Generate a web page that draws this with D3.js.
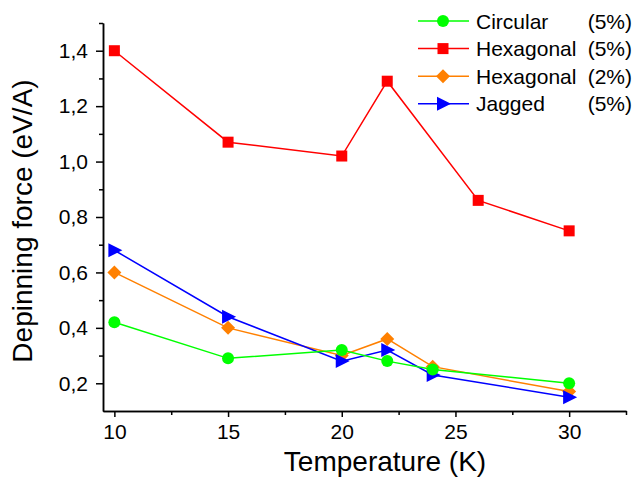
<!DOCTYPE html>
<html lang="en">
<head>
<meta charset="utf-8">
<title>Depinning force vs temperature</title>
<script src="https://d3js.org/d3.v7.min.js"></script>
<style>
    body { margin: 0; background: #fff; }
    text { font-family: "Liberation Sans", Arial, sans-serif; fill: #000; }
    .axis path, .axis line { stroke: #000; stroke-width: 1.5; }
    .axis text { font-size: 21px; }
</style>
</head>
<body>
<script>
    // temperatures (K)
    const tempsHex5 = [10, 15, 20, 22, 26, 30];
    const tempsOther = [10, 15, 20, 22, 24, 30];

    // depinning force (eV/A)
    const hex5 = [1.40, 1.07, 1.02, 1.29, 0.86, 0.75];
    const circular5 = [0.42, 0.29, 0.32, 0.28, 0.25, 0.20];
    const hex2 = [0.60, 0.40, 0.30, 0.36, 0.26, 0.17];
    const jagged5 = [0.68, 0.44, 0.28, 0.32, 0.23, 0.15];

    const xTicks = [10, 15, 20, 25, 30];
    const yTicks = [0.2, 0.4, 0.6, 0.8, 1.0, 1.2, 1.4];

    const series = [
        {name: "Hexagonal", pct: "(2%)", color: "#ff8000", shape: "diamond", x: tempsOther, y: hex2},
        {name: "Jagged", pct: "(5%)", color: "#0000ff", shape: "triangle", x: tempsOther, y: jagged5},
        {name: "Circular", pct: "(5%)", color: "#00ff00", shape: "circle", x: tempsOther, y: circular5},
        {name: "Hexagonal", pct: "(5%)", color: "#ff0000", shape: "square", x: tempsHex5, y: hex5}
    ];
    const legendOrder = [2, 3, 0, 1];

    const W = 636, H = 478;
    const x = d3.scaleLinear().domain([9.5, 32.5]).range([103, 626]);
    const y = d3.scaleLinear().domain([0.1, 1.5]).range([411, 23]);

    const svg = d3.select("body").append("svg").attr("width", W).attr("height", H);

    const comma = d => d3.format(".1f")(d).replace(".", ",");

    // minor ticks
    svg.append("g").attr("class", "axis")
        .attr("transform", "translate(0,411)")
        .call(d3.axisBottom(x).tickValues(d3.range(12.5, 33, 5)).tickSize(4).tickSizeOuter(0).tickFormat(""));
    svg.append("g").attr("class", "axis")
        .attr("transform", "translate(103,0)")
        .call(d3.axisLeft(y).tickValues(d3.range(0.3, 1.55, 0.2)).tickSize(4).tickSizeOuter(0).tickFormat(""));

    // major ticks
    svg.append("g").attr("class", "axis")
        .attr("transform", "translate(0,411)")
        .call(d3.axisBottom(x).tickValues(xTicks).tickSize(6).tickSizeOuter(0).tickPadding(7));
    svg.append("g").attr("class", "axis")
        .attr("transform", "translate(103,0)")
        .call(d3.axisLeft(y).tickValues(yTicks).tickSize(7).tickSizeOuter(0).tickPadding(8).tickFormat(comma));

    // axis titles
    svg.append("text")
        .attr("x", 385).attr("y", 471)
        .attr("text-anchor", "middle")
        .style("font-size", "28px")
        .text("Temperature (K)");
    svg.append("text")
        .attr("transform", "translate(32,221) rotate(-90)")
        .attr("text-anchor", "middle")
        .style("font-size", "28px")
        .text("Depinning force (eV/A)");

    function marker(g, shape, color) {
        if (shape === "circle") {
            g.append("circle").attr("r", 6).attr("fill", color);
        } else if (shape === "square") {
            g.append("rect").attr("x", -5.5).attr("y", -5.5).attr("width", 11).attr("height", 11).attr("fill", color);
        } else if (shape === "diamond") {
            g.append("path").attr("d", "M0,-7L7,0L0,7L-7,0Z").attr("fill", color);
        } else {
            g.append("path").attr("d", "M-6,-7L8,0L-6,7Z").attr("fill", color);
        }
    }

    const line = d3.line().x(d => x(d[0])).y(d => y(d[1]));

    series.forEach(s => {
        const pts = s.x.map((t, i) => [t, s.y[i]]);
        svg.append("path")
            .datum(pts)
            .attr("d", line)
            .attr("fill", "none")
            .attr("stroke", s.color)
            .attr("stroke-width", 1.5);
        svg.append("g").selectAll("g")
            .data(pts).enter()
            .append("g")
            .attr("transform", d => `translate(${x(d[0])},${y(d[1])})`)
            .each(function () { marker(d3.select(this), s.shape, s.color); });
    });

    // legend
    const leg = svg.append("g");
    legendOrder.forEach((idx, i) => {
        const s = series[idx];
        const ry = 21 + i * 27.6;
        leg.append("line")
            .attr("x1", 418).attr("x2", 469).attr("y1", ry).attr("y2", ry)
            .attr("stroke", s.color).attr("stroke-width", 1.5);
        const m = leg.append("g").attr("transform", `translate(443,${ry})`);
        marker(m, s.shape, s.color);
        leg.append("text").attr("x", 476).attr("y", ry + 7.5)
            .style("font-size", "21px").text(s.name);
        leg.append("text").attr("x", 632).attr("y", ry + 7.5)
            .attr("text-anchor", "end")
            .style("font-size", "21px").text(s.pct);
    });
</script>
</body>
</html>
